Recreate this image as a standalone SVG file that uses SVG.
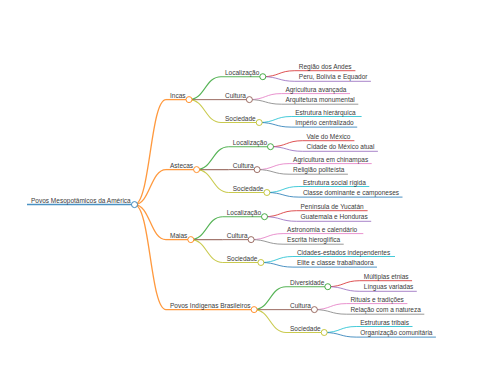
<svg xmlns="http://www.w3.org/2000/svg" width="480" height="384" viewBox="0 0 480 384">
<style>
text{font-family:"Liberation Sans",Arial,sans-serif;font-size:6.5px;fill:#3a3a3a}
path,line,circle{fill:none}
path,line{stroke-opacity:0.8}
.l0{stroke-width:1.5}.l1{stroke-width:1.3}.l2{stroke-width:1.1}.l3{stroke-width:1}
circle{fill:#fff;stroke-width:1;stroke-opacity:0.85}
.c0{stroke:#1f77b4}.c1{stroke:#ff7f0e}.cg{stroke:#2ca02c}.cr{stroke:#d62728}.cp{stroke:#9467bd}
.cb{stroke:#8c564b}.ck{stroke:#e377c2}.cy{stroke:#7f7f7f}.co{stroke:#bcbd22}.cc{stroke:#17becf}
</style>
<rect width="480" height="384" fill="#fff"/>
<g id="connectors">
<path class="l1 c1" d="M134.5,204.6 C150.25,204.6 150.25,99.6 166,99.6"/>
<path class="l1 c1" d="M134.5,204.6 C150.25,204.6 150.25,169.6 166,169.6"/>
<path class="l1 c1" d="M134.5,204.6 C150.25,204.6 150.25,239.6 166,239.6"/>
<path class="l1 c1" d="M134.5,204.6 C150.25,204.6 150.25,309.6 166,309.6"/>
<path class="l2 cg" d="M189,99.6 C205,99.6 205,76.7 221,76.7"/>
<path class="l2 cb" d="M189,99.6 L221,99.6"/>
<path class="l2 co" d="M189,99.6 C205,99.6 205,122.5 221,122.5"/>
<path class="l2 cg" d="M196.6,169.6 C212.65,169.6 212.65,146.7 228.7,146.7"/>
<path class="l2 cb" d="M196.6,169.6 L228.7,169.6"/>
<path class="l2 co" d="M196.6,169.6 C212.65,169.6 212.65,192.5 228.7,192.5"/>
<path class="l2 cg" d="M190.8,239.6 C206.75,239.6 206.75,216.7 222.7,216.7"/>
<path class="l2 cb" d="M190.8,239.6 L222.7,239.6"/>
<path class="l2 co" d="M190.8,239.6 C206.75,239.6 206.75,262.5 222.7,262.5"/>
<path class="l2 cg" d="M254.1,309.6 C270.05,309.6 270.05,286.7 286,286.7"/>
<path class="l2 cb" d="M254.1,309.6 L286,309.6"/>
<path class="l2 co" d="M254.1,309.6 C270.05,309.6 270.05,332.5 286,332.5"/>
<path class="l3 cr" d="M262.8,76.7 C278.8,76.7 278.8,70.7 294.8,70.7"/>
<path class="l3 cp" d="M262.8,76.7 C278.8,76.7 278.8,81.3 294.8,81.3"/>
<path class="l3 ck" d="M249.4,99.6 C265.4,99.6 265.4,93.6 281.4,93.6"/>
<path class="l3 cy" d="M249.4,99.6 C265.4,99.6 265.4,104.2 281.4,104.2"/>
<path class="l3 cc" d="M259.2,122.5 C275.2,122.5 275.2,116.5 291.2,116.5"/>
<path class="l3 c0" d="M259.2,122.5 C275.2,122.5 275.2,127.1 291.2,127.1"/>
<path class="l3 cr" d="M270.5,146.7 C286.5,146.7 286.5,140.7 302.5,140.7"/>
<path class="l3 cp" d="M270.5,146.7 C286.5,146.7 286.5,151.3 302.5,151.3"/>
<path class="l3 ck" d="M257.1,169.6 C273.1,169.6 273.1,163.6 289.1,163.6"/>
<path class="l3 cy" d="M257.1,169.6 C273.1,169.6 273.1,174.2 289.1,174.2"/>
<path class="l3 cc" d="M266.9,192.5 C282.9,192.5 282.9,186.5 298.9,186.5"/>
<path class="l3 c0" d="M266.9,192.5 C282.9,192.5 282.9,197.1 298.9,197.1"/>
<path class="l3 cr" d="M264.5,216.7 C280.5,216.7 280.5,210.7 296.5,210.7"/>
<path class="l3 cp" d="M264.5,216.7 C280.5,216.7 280.5,221.3 296.5,221.3"/>
<path class="l3 ck" d="M251.1,239.6 C267.1,239.6 267.1,233.6 283.1,233.6"/>
<path class="l3 cy" d="M251.1,239.6 C267.1,239.6 267.1,244.2 283.1,244.2"/>
<path class="l3 cc" d="M260.9,262.5 C276.9,262.5 276.9,256.5 292.9,256.5"/>
<path class="l3 c0" d="M260.9,262.5 C276.9,262.5 276.9,267.1 292.9,267.1"/>
<path class="l3 cr" d="M327.8,286.7 C343.8,286.7 343.8,280.7 359.8,280.7"/>
<path class="l3 cp" d="M327.8,286.7 C343.8,286.7 343.8,291.3 359.8,291.3"/>
<path class="l3 ck" d="M314.4,309.6 C330.4,309.6 330.4,303.6 346.4,303.6"/>
<path class="l3 cy" d="M314.4,309.6 C330.4,309.6 330.4,314.2 346.4,314.2"/>
<path class="l3 cc" d="M324.2,332.5 C340.2,332.5 340.2,326.5 356.2,326.5"/>
<path class="l3 c0" d="M324.2,332.5 C340.2,332.5 340.2,337.1 356.2,337.1"/>
</g>
<g id="root"><line class="l0 c0" x1="27" y1="204.6" x2="134.5" y2="204.6"/><text x="31" y="202.6">Povos Mesopotâmicos da América</text><circle class="c0" cx="134.5" cy="204.6" r="3"/></g>
<g id="incas"><line class="l1 c1" x1="166" y1="99.6" x2="189" y2="99.6"/><text x="170" y="97.6">Incas</text><circle class="c1" cx="189" cy="99.6" r="3"/></g>
<g id="astecas"><line class="l1 c1" x1="166" y1="169.6" x2="196.6" y2="169.6"/><text x="170" y="167.6">Astecas</text><circle class="c1" cx="196.6" cy="169.6" r="3"/></g>
<g id="maias"><line class="l1 c1" x1="166" y1="239.6" x2="190.8" y2="239.6"/><text x="170" y="237.6">Maias</text><circle class="c1" cx="190.8" cy="239.6" r="3"/></g>
<g id="povos-indigenas"><line class="l1 c1" x1="166" y1="309.6" x2="254.1" y2="309.6"/><text x="170" y="307.6">Povos Indígenas Brasileiros</text><circle class="c1" cx="254.1" cy="309.6" r="3"/></g>
<g id="incas-localizacao"><line class="l2 cg" x1="221" y1="76.7" x2="262.8" y2="76.7"/><text x="225" y="74.7">Localização</text><circle class="cg" cx="262.8" cy="76.7" r="3"/></g>
<g id="incas-cultura"><line class="l2 cb" x1="221" y1="99.6" x2="249.4" y2="99.6"/><text x="225" y="97.6">Cultura</text><circle class="cb" cx="249.4" cy="99.6" r="3"/></g>
<g id="incas-sociedade"><line class="l2 co" x1="221" y1="122.5" x2="259.2" y2="122.5"/><text x="225" y="120.5">Sociedade</text><circle class="co" cx="259.2" cy="122.5" r="3"/></g>
<g id="astecas-localizacao"><line class="l2 cg" x1="228.7" y1="146.7" x2="270.5" y2="146.7"/><text x="232.7" y="144.7">Localização</text><circle class="cg" cx="270.5" cy="146.7" r="3"/></g>
<g id="astecas-cultura"><line class="l2 cb" x1="228.7" y1="169.6" x2="257.1" y2="169.6"/><text x="232.7" y="167.6">Cultura</text><circle class="cb" cx="257.1" cy="169.6" r="3"/></g>
<g id="astecas-sociedade"><line class="l2 co" x1="228.7" y1="192.5" x2="266.9" y2="192.5"/><text x="232.7" y="190.5">Sociedade</text><circle class="co" cx="266.9" cy="192.5" r="3"/></g>
<g id="maias-localizacao"><line class="l2 cg" x1="222.7" y1="216.7" x2="264.5" y2="216.7"/><text x="226.7" y="214.7">Localização</text><circle class="cg" cx="264.5" cy="216.7" r="3"/></g>
<g id="maias-cultura"><line class="l2 cb" x1="222.7" y1="239.6" x2="251.1" y2="239.6"/><text x="226.7" y="237.6">Cultura</text><circle class="cb" cx="251.1" cy="239.6" r="3"/></g>
<g id="maias-sociedade"><line class="l2 co" x1="222.7" y1="262.5" x2="260.9" y2="262.5"/><text x="226.7" y="260.5">Sociedade</text><circle class="co" cx="260.9" cy="262.5" r="3"/></g>
<g id="povos-diversidade"><line class="l2 cg" x1="286" y1="286.7" x2="327.8" y2="286.7"/><text x="290" y="284.7">Diversidade</text><circle class="cg" cx="327.8" cy="286.7" r="3"/></g>
<g id="povos-cultura"><line class="l2 cb" x1="286" y1="309.6" x2="314.4" y2="309.6"/><text x="290" y="307.6">Cultura</text><circle class="cb" cx="314.4" cy="309.6" r="3"/></g>
<g id="povos-sociedade"><line class="l2 co" x1="286" y1="332.5" x2="324.2" y2="332.5"/><text x="290" y="330.5">Sociedade</text><circle class="co" cx="324.2" cy="332.5" r="3"/></g>
<g id="leaf-1"><line class="l3 cr" x1="294.8" y1="70.7" x2="355.4" y2="70.7"/><text x="298.8" y="68.7">Região dos Andes</text></g>
<g id="leaf-2"><line class="l3 cp" x1="294.8" y1="81.3" x2="370.9" y2="81.3"/><text x="298.8" y="79.3">Peru, Bolívia e Equador</text></g>
<g id="leaf-3"><line class="l3 ck" x1="281.4" y1="93.6" x2="350" y2="93.6"/><text x="285.4" y="91.6">Agricultura avançada</text></g>
<g id="leaf-4"><line class="l3 cy" x1="281.4" y1="104.2" x2="358.3" y2="104.2"/><text x="285.4" y="102.2">Arquitetura monumental</text></g>
<g id="leaf-5"><line class="l3 cc" x1="291.2" y1="116.5" x2="361.6" y2="116.5"/><text x="295.2" y="114.5">Estrutura hierárquica</text></g>
<g id="leaf-6"><line class="l3 c0" x1="291.2" y1="127.1" x2="357.2" y2="127.1"/><text x="295.2" y="125.1">Império centralizado</text></g>
<g id="leaf-7"><line class="l3 cr" x1="302.5" y1="140.7" x2="354.4" y2="140.7"/><text x="306.5" y="138.7">Vale do México</text></g>
<g id="leaf-8"><line class="l3 cp" x1="302.5" y1="151.3" x2="377.9" y2="151.3"/><text x="306.5" y="149.3">Cidade do México atual</text></g>
<g id="leaf-9"><line class="l3 ck" x1="289.1" y1="163.6" x2="371.7" y2="163.6"/><text x="293.1" y="161.6">Agricultura em chinampas</text></g>
<g id="leaf-10"><line class="l3 cy" x1="289.1" y1="174.2" x2="347.9" y2="174.2"/><text x="293.1" y="172.2">Religião politeísta</text></g>
<g id="leaf-11"><line class="l3 cc" x1="298.9" y1="186.5" x2="369.3" y2="186.5"/><text x="302.9" y="184.5">Estrutura social rígida</text></g>
<g id="leaf-12"><line class="l3 c0" x1="298.9" y1="197.1" x2="402.5" y2="197.1"/><text x="302.9" y="195.1">Classe dominante e camponeses</text></g>
<g id="leaf-13"><line class="l3 cr" x1="296.5" y1="210.7" x2="367.6" y2="210.7"/><text x="300.5" y="208.7">Península de Yucatán</text></g>
<g id="leaf-14"><line class="l3 cp" x1="296.5" y1="221.3" x2="371.2" y2="221.3"/><text x="300.5" y="219.3">Guatemala e Honduras</text></g>
<g id="leaf-15"><line class="l3 ck" x1="283.1" y1="233.6" x2="363.3" y2="233.6"/><text x="287.1" y="231.6">Astronomia e calendário</text></g>
<g id="leaf-16"><line class="l3 cy" x1="283.1" y1="244.2" x2="343.7" y2="244.2"/><text x="287.1" y="242.2">Escrita hieroglífica</text></g>
<g id="leaf-17"><line class="l3 cc" x1="292.9" y1="256.5" x2="395" y2="256.5"/><text x="296.9" y="254.5">Cidades-estados independentes</text></g>
<g id="leaf-18"><line class="l3 c0" x1="292.9" y1="267.1" x2="377" y2="267.1"/><text x="296.9" y="265.1">Elite e classe trabalhadora</text></g>
<g id="leaf-19"><line class="l3 cr" x1="359.8" y1="280.7" x2="412.1" y2="280.7"/><text x="363.8" y="278.7">Múltiplas etnias</text></g>
<g id="leaf-20"><line class="l3 cp" x1="359.8" y1="291.3" x2="416.8" y2="291.3"/><text x="363.8" y="289.3">Línguas variadas</text></g>
<g id="leaf-21"><line class="l3 ck" x1="346.4" y1="303.6" x2="407.4" y2="303.6"/><text x="350.4" y="301.6">Rituais e tradições</text></g>
<g id="leaf-22"><line class="l3 cy" x1="346.4" y1="314.2" x2="424.3" y2="314.2"/><text x="350.4" y="312.2">Relação com a natureza</text></g>
<g id="leaf-23"><line class="l3 cc" x1="356.2" y1="326.5" x2="412.5" y2="326.5"/><text x="360.2" y="324.5">Estruturas tribais</text></g>
<g id="leaf-24"><line class="l3 c0" x1="356.2" y1="337.1" x2="435.9" y2="337.1"/><text x="360.2" y="335.1">Organização comunitária</text></g>
</svg>
